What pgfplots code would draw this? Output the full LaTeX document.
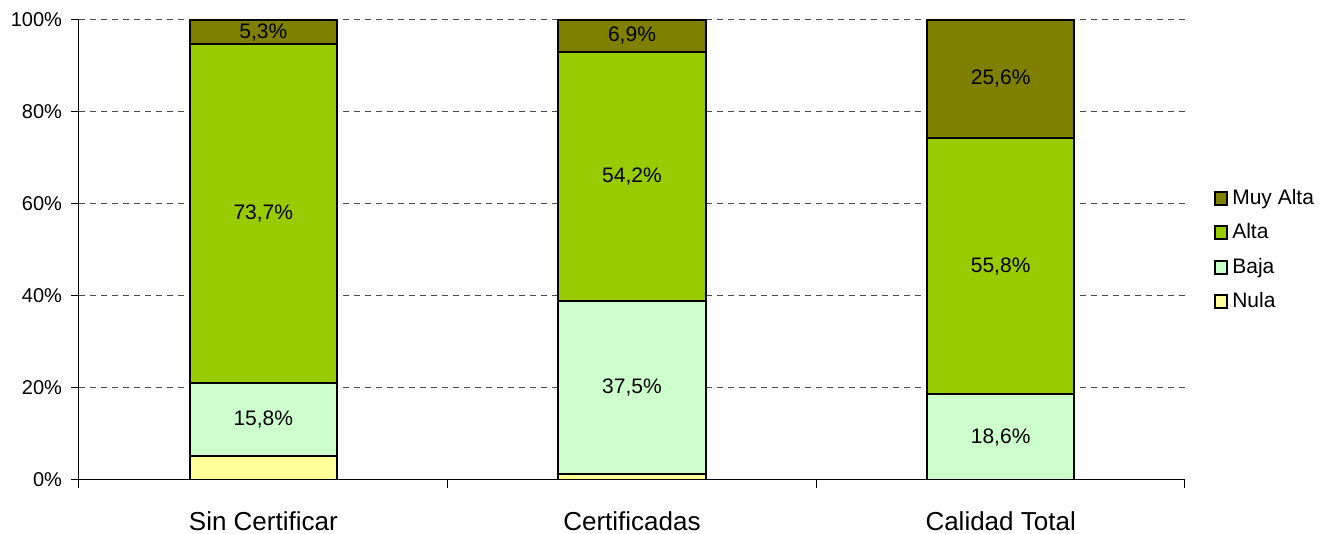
\documentclass[border=0pt]{standalone}
\usepackage{pgfplots}
\pgfplotsset{compat=1.18}
\usepackage{fontspec}
\setmainfont{Liberation Sans}
\definecolor{muyalta}{HTML}{808000}
\definecolor{alta}{HTML}{99CC00}
\definecolor{baja}{HTML}{CCFFCC}
\definecolor{nula}{HTML}{FFFF99}
\begin{document}
\begin{tikzpicture}
\useasboundingbox (0,0) rectangle (665pt,267pt);
\begin{axis}[
  at={(39.5pt,27pt)}, anchor=south west,
  scale only axis, width=553pt, height=230pt,
  ybar stacked, bar width=0.4,
  xmin=-0.5, xmax=2.5, ymin=0, ymax=100,
  axis lines*=left,
  axis line style={black, line width=0.5pt},
  xtick={-0.5,0.5,1.5,2.5}, xticklabels={},
  extra x ticks={0,1,2},
  extra x tick labels={Sin Certificar,Certificadas,Calidad Total},
  extra x tick style={major tick length=0pt},
  xticklabel style={font=\fontsize{13}{15}\selectfont, yshift=-12.5pt},
  ytick={0,20,40,60,80,100},
  yticklabel={\fontsize{10}{12}\selectfont\pgfmathprintnumber{\tick}\%},
  yticklabel style={font=\fontsize{10}{12}\selectfont, xshift=-1pt},
  /pgf/number format/assume math mode=true,
  tick align=outside, major tick length=4pt,
  tick style={black, line width=0.5pt},
  ymajorgrids,
  grid style={dash pattern=on 3pt off 2.5pt, black!70, line width=0.5pt},
  legend style={at={(1.02,0.5)}, anchor=west, draw=none, fill=none,
    font=\fontsize{10.5}{12}\selectfont, row sep=4pt},
  legend cell align=left,
  reverse legend,
  legend image code/.code={\draw[#1, draw=black, line width=1pt] (0pt,-3.2pt) rectangle (6.4pt,3.2pt);},
  mylabels/.style={
    visualization depends on={rawy \as \rawy},
    nodes near coords={\pgfmathprintnumber[fixed,fixed zerofill,precision=1,use comma]{\rawy}\%},
    every node near coord/.append style={anchor=center, text=black,
      font=\fontsize{10.5}{12}\selectfont},
  },
]
\addplot[fill=nula, draw=black, line width=1pt] coordinates {(0,5.2) (1,1.4) (2,0)};
\addplot[fill=baja, draw=black, line width=1pt, mylabels] coordinates {(0,15.8) (1,37.5) (2,18.6)};
\addplot[fill=alta, draw=black, line width=1pt, mylabels] coordinates {(0,73.7) (1,54.2) (2,55.8)};
\addplot[fill=muyalta, draw=black, line width=1pt, mylabels] coordinates {(0,5.3) (1,6.9) (2,25.6)};
\legend{Nula,Baja,Alta,Muy Alta}
\end{axis}
\end{tikzpicture}
\end{document}
